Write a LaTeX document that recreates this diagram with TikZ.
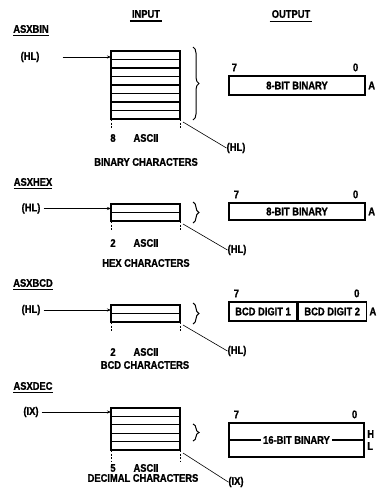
\documentclass[tikz,border=0pt]{standalone}
\usepackage{fontspec}
\setmainfont{Liberation Sans}[FakeStretch=0.85, BoldFeatures={FakeBold=1.2}]
\usetikzlibrary{arrows.meta,decorations.pathreplacing}

\tikzset{
  lbl/.style={font=\bfseries\fontsize{11}{12}\selectfont, inner sep=0pt},
  uline/.style={line width=1.1pt},
  stk/.style={line width=1.4pt},
  row/.style={line width=1.1pt},
  dsh/.style={line width=1pt, dash pattern=on 2pt off 1.5pt},
  ptr/.style={line width=0.6pt, -{Stealth[length=4pt,width=3pt]}},
  lead/.style={line width=0.6pt},
  brc/.style={line width=1pt, decorate, decoration={brace,amplitude=6pt}},
  obox/.style={draw, line width=1.2pt, inner sep=0pt, font=\bfseries\fontsize{11}{12}\selectfont},
}

\begin{document}
\begin{tikzpicture}[x=1pt,y=-1pt]
\useasboundingbox (0,0) rectangle (376,493);

\node[lbl] (input) at (146,14) {INPUT};
\draw[uline] ([shift={(-2,3)}]input.south west) -- ([shift={(2,3)}]input.south east);
\node[lbl] (output) at (291,14) {OUTPUT};
\draw[uline] ([shift={(-2,3)}]output.south west) -- ([shift={(2,3)}]output.south east);

\node[lbl] (asxbin) at (31,29) {ASXBIN};
\draw[uline] ([yshift=-2.5pt]asxbin.south west) -- ([yshift=-2.5pt]asxbin.south east);
\node[lbl] (hlinA) at (30,57) {(HL)};
\coordinate (binTL) at (111,51);
\coordinate (binBR) at (180,119);
\draw[stk] (binTL) rectangle (binBR);
\foreach \k in {1,...,7} \draw[row] (111,{51+8.5*\k}) -- (180,{51+8.5*\k});
\draw[ptr] ([xshift=23pt]hlinA.east) -- (hlinA -| binTL);
\draw[dsh] (binTL |- binBR) -- ++(0,10);
\draw[dsh] (binBR) -- ++(0,10);
\draw[brc] (193,47) -- (193,120);
\node[lbl] (hloutA) at (236,148) {(HL)};
\draw[lead] ([shift={(3,3)}]binBR) -- (hloutA.west);
\node[lbl] (numA) at (113,138) {8};
\node[lbl] (ascA) at (146,138) {ASCII};
\node[lbl] (chrA) at (146,162) {BINARY CHARACTERS};
\node[obox, minimum width=136pt, minimum height=19pt] (outA) at (297,85.5) {8-BIT BINARY};
\node[lbl] (hiA) at ([shift={(6,-8)}]outA.north west) {7};
\node[lbl] (loA) at ([shift={(-10,-8)}]outA.north east) {0};
\node[lbl, anchor=west] (regA) at ([xshift=2.5pt]outA.east) {A};

\node[lbl] (asxhex) at (33,182) {ASXHEX};
\draw[uline] ([yshift=-2.5pt]asxhex.south west) -- ([yshift=-2.5pt]asxhex.south east);
\node[lbl] (hlinB) at (31,208.5) {(HL)};
\coordinate (hexTL) at (111,204);
\coordinate (hexBR) at (180,221);
\draw[stk] (hexTL) rectangle (hexBR);
\draw[row] (111,212.5) -- (180,212.5);
\draw[ptr] ([xshift=3pt]hlinB.east) -- (hlinB -| hexTL);
\draw[dsh] (hexTL |- hexBR) -- ++(0,10);
\draw[dsh] (hexBR) -- ++(0,10);
\draw[brc] (193,202) -- (193,223);
\node[lbl] (hloutB) at (237,250) {(HL)};
\draw[lead] ([shift={(3,3)}]hexBR) -- (hloutB.west);
\node[lbl] (numB) at (113,243) {2};
\node[lbl] (ascB) at (146,243) {ASCII};
\node[lbl] (chrB) at (146,263) {HEX CHARACTERS};
\node[obox, minimum width=136pt, minimum height=17pt] (outB) at (297,211.5) {8-BIT BINARY};
\node[lbl] (hiB) at ([shift={(8,-8)}]outB.north west) {7};
\node[lbl] (loB) at ([shift={(-10,-8)}]outB.north east) {0};
\node[lbl, anchor=west] (regB) at ([xshift=2.5pt]outB.east) {A};

\node[lbl] (asxbcd) at (33,283) {ASXBCD};
\draw[uline] ([yshift=-2.5pt]asxbcd.south west) -- ([yshift=-2.5pt]asxbcd.south east);
\node[lbl] (hlinC) at (31,310) {(HL)};
\coordinate (bcdTL) at (111,305);
\coordinate (bcdBR) at (180,322);
\draw[stk] (bcdTL) rectangle (bcdBR);
\draw[row] (111,313.5) -- (180,313.5);
\draw[ptr] ([xshift=3pt]hlinC.east) -- (hlinC -| bcdTL);
\draw[dsh] (bcdTL |- bcdBR) -- ++(0,10);
\draw[dsh] (bcdBR) -- ++(0,10);
\draw[brc] (193,303) -- (193,324);
\node[lbl] (hloutC) at (237,351) {(HL)};
\draw[lead] ([shift={(3,3)}]bcdBR) -- (hloutC.west);
\node[lbl] (numC) at (113,352) {2};
\node[lbl] (ascC) at (146,352) {ASCII};
\node[lbl] (chrC) at (145,365) {BCD CHARACTERS};
\node[obox, minimum width=68pt, minimum height=19pt] (digA) at (263,311.5) {BCD DIGIT 1};
\node[obox, minimum width=68pt, minimum height=19pt, anchor=west] (digB) at (digA.east) {BCD DIGIT 2};
\node[lbl] (hiC) at ([shift={(8,-8)}]digA.north west) {7};
\node[lbl] (loC) at ([shift={(-10,-8)}]digB.north east) {0};
\node[lbl, anchor=west] (regC) at ([xshift=2.5pt]digB.east) {A};

\node[lbl] (asxdec) at (33,386) {ASXDEC};
\draw[uline] ([yshift=-2.5pt]asxdec.south west) -- ([yshift=-2.5pt]asxdec.south east);
\node[lbl] (ixin) at (31,412) {(IX)};
\coordinate (decTL) at (111,408);
\coordinate (decBR) at (180,450);
\draw[stk] (decTL) rectangle (decBR);
\foreach \k in {1,...,4} \draw[row] (111,{408+8.4*\k}) -- (180,{408+8.4*\k});
\draw[ptr] ([xshift=3pt]ixin.east) -- (ixin -| decTL);
\draw[dsh] (decTL |- decBR) -- ++(0,11);
\draw[dsh] (decBR) -- ++(0,11);
\draw[brc] (193,424) -- (193,441);
\node[lbl] (ixout) at (236,482) {(IX)};
\draw[lead] ([shift={(3,3)}]decBR) -- (ixout.west);
\node[lbl] (numD) at (113,468) {5};
\node[lbl] (ascD) at (146,468) {ASCII};
\node[lbl] (chrD) at (143,478) {DECIMAL CHARACTERS};
\node[obox, minimum width=135pt, minimum height=34pt] (outD) at (296.5,440) {};
\node[lbl, inner xsep=2pt] (binD) at (outD) {16-BIT BINARY};
\draw[line width=1.2pt] (outD.west) -- (binD.west);
\draw[line width=1.2pt] (binD.east) -- (outD.east);
\node[lbl] (hiD) at ([shift={(8,-8)}]outD.north west) {7};
\node[lbl] (loD) at ([shift={(-10,-8)}]outD.north east) {0};
\node[lbl, anchor=west] (regH) at ([shift={(2.5,-6)}]outD.east) {H};
\node[lbl, anchor=west] (regL) at ([shift={(2.5,6)}]outD.east) {L};
\end{tikzpicture}
\end{document}
